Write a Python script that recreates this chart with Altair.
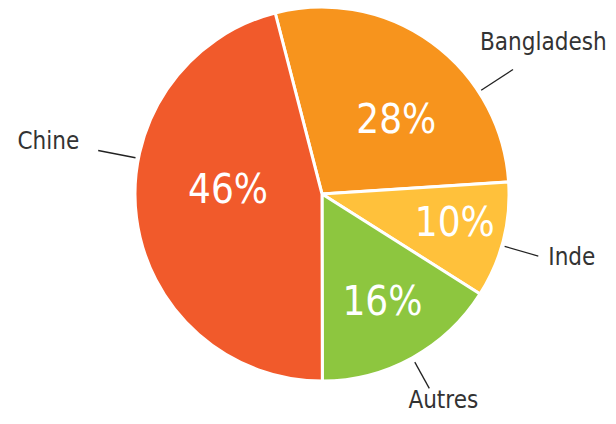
import altair as alt
import pandas as pd

# ---- data ----
categories = ["Bangladesh", "Inde", "Autres", "Chine"]
shares = [28, 10, 16, 46]
labels = ["28%", "10%", "16%", "46%"]
colors = ["#F7941D", "#FFC13B", "#8DC63F", "#F15A2B"]

# ---- layout (styling / annotation placement) ----
START_DEG = -14.5
CX, CY, R = 314, 186, 187
pct_nudge = [9.7, -1.7, 0.0, 9.1]       # degrees from slice middle
pct_radius = [104, 136, 125, 94]
lead_nudge = [21.0, 1.7, 0.0, 18.3]
lead_r0 = [190, 190, 192, 190]
lead_r1 = [228, 225, 222, 228]
text_dx = [-33, 10, 14, -19]
text_dy = [-19, 9, 20, -1]
text_align = ["left", "left", "center", "right"]

df = pd.DataFrame({
    "cat": categories, "share": shares, "label": labels, "idx": range(len(categories)),
    "pn": pct_nudge, "pr": pct_radius, "ln": lead_nudge, "r0": lead_r0, "r1": lead_r1,
    "tdx": text_dx, "tdy": text_dy, "al": text_align,
})

base = alt.Chart(df)

color_scale = alt.Scale(domain=categories, range=colors)
theta_scale = alt.Scale(range=[START_DEG * 3.14159265 / 180, (START_DEG + 360) * 3.14159265 / 180])

shadow = alt.Chart(pd.DataFrame({"v": [1]})).mark_arc(
    color="#000000", opacity=0.10, radius=R + 4
).encode(theta=alt.Theta("v:Q"), x=alt.value(CX + 4), y=alt.value(CY + 5))

pie = base.mark_arc(radius=R, stroke="white", strokeWidth=3).encode(
    theta=alt.Theta("share:Q", stack=True, scale=theta_scale),
    order=alt.Order("idx:Q"),
    color=alt.Color("cat:N", scale=color_scale, legend=None),
    x=alt.value(CX), y=alt.value(CY),
)

calc = base.transform_window(
    cum="sum(share)", sort=[alt.SortField("idx")], frame=[None, 0]
).transform_calculate(
    mid=f"{START_DEG} + (datum.cum - datum.share / 2) * 3.6"
).transform_calculate(
    pa="(datum.mid + datum.pn) * PI / 180",
    la="(datum.mid + datum.ln) * PI / 180",
).transform_calculate(
    px=f"{CX} + datum.pr * sin(datum.pa)",
    py=f"{CY} - datum.pr * cos(datum.pa)",
    lx0=f"{CX} + datum.r0 * sin(datum.la)",
    ly0=f"{CY} - datum.r0 * cos(datum.la)",
    lx1=f"{CX} + datum.r1 * sin(datum.la)",
    ly1=f"{CY} - datum.r1 * cos(datum.la)",
).transform_calculate(
    tx="datum.lx1 + datum.tdx",
    ty="min(datum.ly1 + datum.tdy, 407)",
)

FONT = "DejaVu Sans Condensed, DejaVu Sans, sans-serif"

pct = calc.mark_text(
    font=FONT, fontSize=40, color="white", align="center", baseline="middle"
).encode(
    x=alt.X("px:Q", scale=None), y=alt.Y("py:Q", scale=None), text="label:N"
)

leaders = calc.mark_rule(color="#222222", strokeWidth=1.3).encode(
    x=alt.X("lx0:Q", scale=None), y=alt.Y("ly0:Q", scale=None),
    x2="lx1:Q", y2="ly1:Q",
)

outer = []
for a in ["left", "right", "center"]:
    outer.append(
        calc.transform_filter(f"datum.al == '{a}'").mark_text(
            font=FONT, fontSize=24, color="#333333", align=a, baseline="alphabetic"
        ).encode(
            x=alt.X("tx:Q", scale=None), y=alt.Y("ty:Q", scale=None), text="cat:N"
        )
    )

chart = alt.layer(shadow, pie, pct, leaders, *outer).properties(
    width=600, height=408, padding=0, autosize=alt.AutoSizeParams(type="none")
).configure_view(strokeOpacity=0, strokeWidth=0, fill="white")

chart.save("out.html", embed_options={"renderer": "svg", "actions": False})
